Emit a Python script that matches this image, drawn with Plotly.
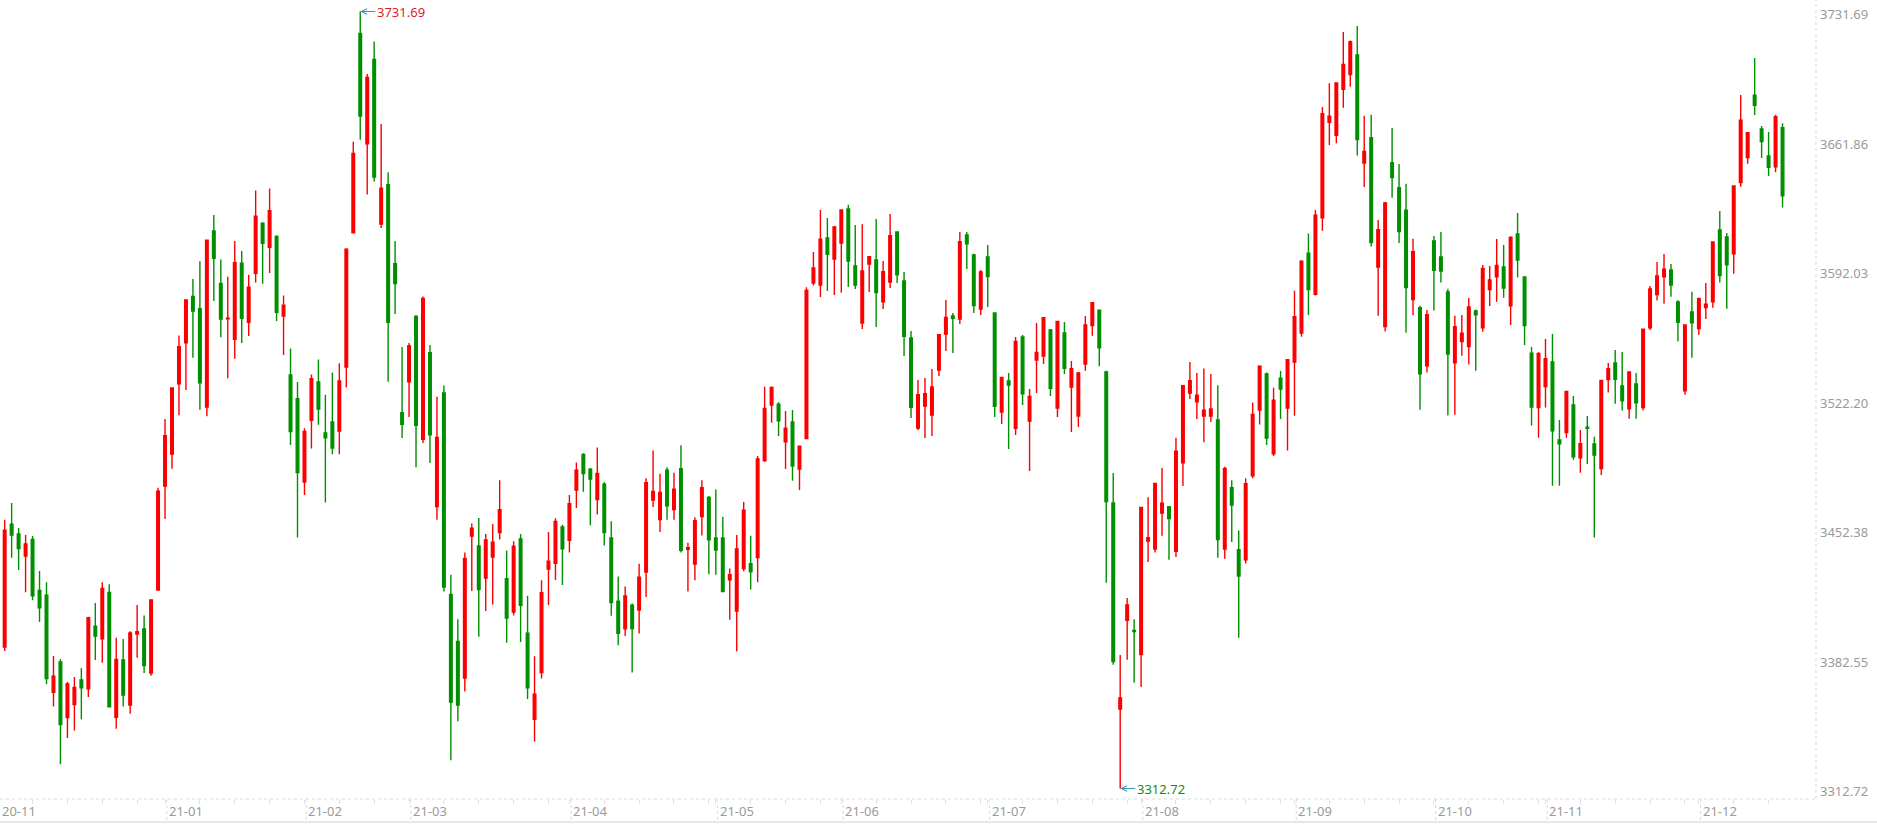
import pandas as pd
import plotly.graph_objects as go

# trading calendar (weekday closures of the Shanghai exchange)
holidays = ["2021-01-01", "2021-02-11", "2021-02-12", "2021-02-15", "2021-02-16",
            "2021-02-17", "2021-04-05", "2021-05-03", "2021-05-04", "2021-05-05",
            "2021-06-14", "2021-09-20", "2021-09-21", "2021-10-01", "2021-10-04",
            "2021-10-05", "2021-10-06", "2021-10-07"]
dates = [d.strftime("%Y-%m-%d") for d in pd.bdate_range("2020-11-30", "2021-12-17")
         if d.strftime("%Y-%m-%d") not in holidays]

opens = [
    3419.0,
    # 2020-12
    3388.99, 3455.3, 3450.0, 3438.0, 3447.0, 3419.5, 3417.0, 3364.6, 3381.0, 3351.0, 3358.0, 3371.2,
    3366.5, 3400.3, 3393.5, 3418.5, 3351.1, 3382.0, 3357.7, 3396.0, 3398.8, 3375.0, 3419.7,
    # 2021-01
    3475.8, 3493.0, 3531.0, 3553.0, 3578.0, 3571.4, 3518.4, 3613.3, 3585.0, 3566.0,
    3555.0, 3596.0, 3564.1, 3590.5, 3617.6, 3604.5, 3610.4, 3567.5, 3535.7, 3522.9,
    # 2021-02
    3478.0, 3511.2, 3531.9, 3504.5, 3510.4, 3505.5, 3540.0, 3612.4, 3719.8, 3660.4,
    3705.9, 3617.1, 3638.3, 3595.7, 3515.4,
    # 2021-03
    3532.0, 3567.2, 3501.0, 3547.7, 3464.7, 3526.0, 3417.4, 3392.0, 3372.3, 3448.8, 3443.5, 3426.2,
    3437.5, 3450.8, 3425.9, 3407.8, 3447.3, 3396.5, 3350.0, 3375.3, 3431.0, 3434.2, 3453.7,
    # 2021-04
    3446.6, 3473.6, 3492.8, 3484.9, 3468.5, 3476.8, 3447.8, 3413.7, 3398.8, 3411.6, 3409.0,
    3429.5, 3468.3, 3457.7, 3484.3, 3463.1, 3485.2, 3441.7, 3433.7, 3459.3, 3469.7,
    # 2021-05
    3447.8, 3447.8, 3425.2, 3408.4, 3431.3, 3433.9, 3437.2, 3489.5, 3519.5, 3520.0,
    3499.6, 3510.4, 3485.0, 3501.4, 3585.3, 3584.2, 3609.6, 3598.2,
    # 2021-06
    3606.9, 3625.2, 3594.5, 3563.7, 3595.5, 3597.7, 3575.1, 3585.8, 3612.8, 3586.4, 3555.6,
    3507.1, 3519.0, 3514.1, 3538.4, 3557.8, 3567.5, 3565.9, 3611.2, 3600.4, 3571.3,
    # 2021-07
    3599.3, 3569.1, 3515.7, 3532.5, 3507.0, 3556.2, 3510.9, 3543.8, 3545.9, 3560.0, 3517.9,
    3558.3, 3529.2, 3513.6, 3541.6, 3562.4, 3570.6, 3537.3, 3466.7, 3355.6, 3403.4, 3398.0,
    # 2021-08
    3385.0, 3446.2, 3441.8, 3461.3, 3464.7, 3440.6, 3488.3, 3526.0, 3521.2, 3513.6, 3513.6,
    3511.4, 3441.8, 3474.9, 3441.5, 3436.0, 3481.3, 3516.8, 3536.2, 3493.2, 3534.0, 3517.9,
    # 2021-09
    3542.7, 3558.3, 3601.4, 3579.2, 3620.4, 3671.9, 3665.0, 3689.7, 3697.7, 3708.2,
    3650.0, 3663.6, 3593.9, 3561.8, 3650.1, 3636.7, 3624.6, 3576.4, 3572.0, 3540.7,
    # 2021-10
    3607.9, 3599.3, 3580.4, 3542.3, 3553.7, 3551.0, 3570.2, 3561.2, 3581.7, 3588.7,
    3593.9, 3573.0, 3611.7, 3588.5, 3547.5, 3518.1,
    # 2021-11
    3529.4, 3542.7, 3500.6, 3504.6, 3519.5, 3491.1, 3507.5, 3498.5, 3485.2, 3533.2, 3542.2,
    3529.8, 3517.5, 3530.8, 3518.1, 3561.2, 3579.0, 3588.7, 3592.3, 3575.1, 3527.2, 3569.7,
    # 2021-12
    3560.7, 3572.0, 3575.2, 3613.9, 3610.1, 3601.1, 3639.4, 3652.9, 3686.5, 3668.3,
    3653.8, 3648.0, 3669.0,
]

highs = [
    3456.7,
    3457.64, 3466.6, 3453.2, 3449.4, 3448.9, 3430.0, 3424.0, 3384.2, 3382.6, 3370.1, 3372.8, 3377.6,
    3405.3, 3412.7, 3424.0, 3422.9, 3394.0, 3393.3, 3397.5, 3411.7, 3406.0, 3414.7, 3474.9,
    3512.0, 3528.9, 3557.0, 3576.5, 3587.5, 3597.0, 3608.5, 3622.0, 3598.0, 3588.7,
    3608.0, 3602.5, 3589.8, 3635.2, 3618.0, 3636.2, 3611.0, 3578.5, 3550.0, 3531.9,
    3507.0, 3536.0, 3544.0, 3525.0, 3537.0, 3542.0, 3604.0, 3661.5, 3731.69, 3698.0,
    3715.5, 3671.0, 3645.0, 3607.9, 3550.8,
    3553.0, 3568.0, 3578.0, 3551.9, 3524.0, 3530.0, 3428.0, 3404.0, 3440.0, 3455.6, 3458.6, 3450.0,
    3455.3, 3479.0, 3441.0, 3446.0, 3450.0, 3416.7, 3384.0, 3425.0, 3451.0, 3458.5, 3455.0,
    3471.0, 3488.5, 3493.5, 3485.5, 3496.6, 3478.0, 3456.8, 3427.1, 3421.6, 3412.5, 3433.9,
    3480.0, 3495.0, 3482.4, 3486.0, 3483.0, 3497.8, 3445.2, 3459.0, 3479.0, 3470.5,
    3474.0, 3459.3, 3431.3, 3449.4, 3467.2, 3449.0, 3492.0, 3529.4, 3529.5, 3521.0,
    3516.3, 3516.8, 3497.5, 3583.0, 3602.0, 3624.7, 3620.3, 3616.0,
    3624.9, 3627.5, 3616.6, 3617.0, 3599.8, 3619.8, 3597.2, 3622.5, 3613.2, 3591.2, 3559.4,
    3533.0, 3534.1, 3538.9, 3557.5, 3576.1, 3569.1, 3612.8, 3612.8, 3601.0, 3592.3,
    3605.8, 3569.5, 3534.5, 3536.8, 3556.2, 3557.3, 3528.1, 3563.7, 3566.0, 3560.5, 3564.8,
    3564.3, 3543.2, 3537.3, 3567.5, 3575.0, 3571.0, 3538.0, 3482.9, 3384.7, 3415.4, 3404.0,
    3464.5, 3469.7, 3477.5, 3485.5, 3465.0, 3501.8, 3530.0, 3542.7, 3536.7, 3539.2, 3536.2,
    3530.2, 3486.2, 3479.0, 3451.8, 3480.0, 3520.8, 3541.0, 3537.0, 3528.8, 3537.8, 3544.0,
    3581.1, 3597.5, 3612.0, 3624.6, 3680.2, 3693.0, 3693.5, 3720.6, 3716.0, 3723.85,
    3675.5, 3676.0, 3619.3, 3629.0, 3668.9, 3649.4, 3638.8, 3609.1, 3573.0, 3570.7,
    3610.6, 3612.8, 3582.2, 3567.7, 3568.0, 3577.2, 3571.0, 3595.0, 3594.5, 3609.0,
    3605.8, 3610.5, 3623.0, 3589.0, 3550.8, 3548.0,
    3555.1, 3557.8, 3511.4, 3527.0, 3524.4, 3506.0, 3513.6, 3502.4, 3533.0, 3542.2, 3549.2,
    3548.1, 3537.5, 3536.8, 3560.5, 3583.7, 3596.6, 3600.9, 3595.5, 3576.0, 3563.0, 3580.6,
    3577.5, 3585.3, 3607.8, 3624.1, 3612.3, 3638.0, 3686.7, 3666.4, 3706.6, 3669.9,
    3666.7, 3676.0, 3671.4,
]

lows = [
    3385.4,
    3386.91, 3437.2, 3430.5, 3418.6, 3414.2, 3402.5, 3369.0, 3357.0, 3325.8, 3340.0, 3344.0, 3350.0,
    3362.0, 3382.0, 3380.5, 3356.6, 3345.0, 3357.0, 3353.0, 3383.2, 3375.0, 3373.5, 3419.7,
    3458.0, 3485.2, 3514.0, 3527.6, 3545.0, 3517.0, 3513.5, 3575.6, 3556.0, 3534.0,
    3544.5, 3553.0, 3556.7, 3585.6, 3584.9, 3590.7, 3564.8, 3546.5, 3498.0, 3448.0,
    3471.0, 3496.0, 3508.8, 3467.0, 3493.0, 3493.0, 3529.0, 3612.0, 3662.6, 3633.0,
    3640.0, 3615.0, 3532.0, 3568.6, 3501.7,
    3513.0, 3486.0, 3499.0, 3488.3, 3457.7, 3419.0, 3328.0, 3349.0, 3365.0, 3419.2, 3394.6, 3408.4,
    3412.0, 3447.0, 3391.3, 3406.0, 3391.7, 3361.0, 3338.0, 3372.0, 3411.6, 3425.2, 3422.4,
    3440.0, 3464.0, 3472.8, 3454.7, 3460.5, 3443.8, 3405.9, 3389.9, 3395.0, 3375.3, 3396.3,
    3416.0, 3464.5, 3451.0, 3457.7, 3457.7, 3440.0, 3419.0, 3425.0, 3449.2, 3428.3,
    3428.0, 3418.5, 3403.7, 3386.6, 3429.9, 3420.0, 3424.0, 3488.8, 3510.0, 3502.8,
    3485.0, 3478.7, 3473.7, 3501.0, 3583.9, 3577.8, 3581.0, 3578.8,
    3580.0, 3583.1, 3582.0, 3560.5, 3580.4, 3561.6, 3571.3, 3582.6, 3585.3, 3545.9, 3512.5,
    3506.0, 3501.7, 3502.8, 3535.2, 3548.6, 3547.6, 3563.2, 3592.9, 3569.1, 3568.0,
    3572.3, 3513.0, 3509.3, 3495.8, 3503.3, 3519.5, 3483.9, 3526.0, 3541.6, 3524.4, 3513.0,
    3536.2, 3504.9, 3507.6, 3538.0, 3556.9, 3540.4, 3423.7, 3379.5, 3312.72, 3382.2, 3369.8,
    3367.5, 3434.9, 3440.0, 3449.0, 3436.0, 3437.5, 3475.8, 3522.8, 3511.9, 3499.4, 3510.3,
    3437.2, 3436.6, 3445.6, 3394.0, 3434.0, 3480.0, 3509.0, 3498.0, 3492.0, 3511.9, 3495.0,
    3513.7, 3556.3, 3568.0, 3578.5, 3613.5, 3659.7, 3660.6, 3679.8, 3691.1, 3654.0,
    3637.0, 3605.0, 3567.6, 3559.1, 3631.2, 3606.9, 3558.5, 3567.9, 3517.0, 3537.0,
    3570.4, 3585.5, 3513.8, 3514.3, 3546.1, 3541.3, 3538.0, 3559.0, 3572.9, 3575.2,
    3577.4, 3562.6, 3588.2, 3551.9, 3508.4, 3501.9,
    3518.1, 3476.0, 3476.0, 3501.9, 3490.0, 3483.0, 3487.7, 3448.0, 3481.8, 3526.2, 3520.2,
    3516.5, 3512.1, 3512.1, 3516.5, 3560.0, 3575.8, 3574.1, 3577.9, 3553.7, 3525.1, 3545.0,
    3557.4, 3565.9, 3572.0, 3585.5, 3571.4, 3590.3, 3637.2, 3649.6, 3675.9, 3652.7,
    3643.0, 3645.0, 3626.0,
]

closes = [
    3391.76,
    3451.94, 3449.38, 3442.14, 3444.58, 3416.60, 3410.18, 3371.96, 3373.28, 3347.19, 3369.12, 3367.23, 3366.98,
    3404.87, 3394.90, 3420.57, 3356.78, 3382.32, 3363.11, 3396.56, 3397.29, 3379.04, 3414.45, 3473.07,
    3502.96, 3528.68, 3550.88, 3576.20, 3570.11, 3531.50, 3608.34, 3598.65, 3565.90, 3566.38,
    3596.22, 3566.28, 3583.09, 3621.26, 3606.75, 3624.24, 3569.43, 3573.34, 3505.18, 3483.07,
    3505.28, 3533.68, 3517.31, 3501.86, 3496.33, 3532.44, 3603.49, 3655.09, 3675.36, 3696.17,
    3642.44, 3636.36, 3564.08, 3585.05, 3509.08,
    3551.40, 3508.59, 3576.90, 3503.49, 3501.99, 3421.41, 3359.29, 3357.74, 3436.83, 3453.08, 3419.95, 3446.73,
    3445.55, 3463.07, 3404.66, 3443.44, 3411.51, 3367.06, 3363.59, 3418.33, 3435.30, 3456.68, 3441.91,
    3466.33, 3484.39, 3482.48, 3479.63, 3482.56, 3450.68, 3412.95, 3396.47, 3416.52, 3398.99, 3426.62,
    3477.55, 3472.94, 3472.31, 3465.11, 3474.17, 3441.17, 3442.61, 3457.07, 3474.90, 3446.86,
    3441.28, 3418.87, 3427.99, 3441.85, 3462.75, 3429.54, 3490.38, 3517.62, 3529.01, 3510.96,
    3506.94, 3486.56, 3497.28, 3581.34, 3593.36, 3608.85, 3600.78, 3615.48,
    3624.71, 3597.14, 3584.22, 3591.84, 3599.54, 3580.11, 3591.40, 3610.86, 3589.75, 3556.56, 3518.33,
    3525.10, 3525.60, 3529.18, 3557.41, 3566.65, 3566.22, 3607.56, 3606.37, 3573.18, 3591.20,
    3588.78, 3518.76, 3534.32, 3530.26, 3553.72, 3525.50, 3524.09, 3547.84, 3566.53, 3528.50, 3564.59,
    3539.30, 3539.12, 3536.79, 3562.70, 3574.73, 3550.40, 3467.44, 3381.18, 3361.59, 3411.72, 3397.36,
    3464.29, 3447.99, 3477.22, 3466.56, 3458.23, 3494.63, 3529.93, 3532.62, 3524.74, 3516.76, 3517.34,
    3446.98, 3485.29, 3465.55, 3427.33, 3477.13, 3514.47, 3540.38, 3501.66, 3522.16, 3528.15, 3543.94,
    3567.10, 3597.04, 3581.73, 3621.86, 3676.59, 3675.19, 3693.13, 3703.11, 3715.37, 3662.60,
    3656.22, 3607.09, 3613.97, 3628.49, 3642.22, 3613.07, 3582.83, 3602.22, 3536.29, 3568.17,
    3592.17, 3591.71, 3546.94, 3561.76, 3558.28, 3572.37, 3568.14, 3593.15, 3587.00, 3594.78,
    3582.60, 3609.86, 3597.64, 3562.31, 3518.42, 3547.34,
    3544.48, 3505.63, 3498.54, 3526.87, 3491.57, 3498.63, 3507.00, 3492.46, 3532.79, 3539.10, 3533.30,
    3521.79, 3537.37, 3520.71, 3560.37, 3582.08, 3589.09, 3592.70, 3584.18, 3564.09, 3562.70, 3563.89,
    3576.89, 3573.84, 3607.43, 3589.31, 3595.09, 3637.57, 3673.04, 3666.35, 3681.08, 3661.53,
    3647.63, 3675.02, 3632.36,
]

y_ticks = [3731.69, 3661.86, 3592.03, 3522.20, 3452.38, 3382.55, 3312.72]
max_value = 3731.69
min_value = 3312.72

RED = "#fa0000"
GREEN = "#008f00"
GRAY = "#9a9a9a"
LINE = "#d9d9d9"

# month groups: the first group (Nov/Dec 2020) is labelled "20-11"
months = [d[:7] for d in dates]
group_start = [0]
for i in range(1, len(dates)):
    if months[i] != months[i - 1] and months[i] >= "2021-01":
        group_start.append(i)
labels = [months[i][2:] for i in group_start]
labels[0] = "20-11"

minor = []
bounds = group_start + [len(dates)]
for k in range(len(group_start)):
    minor += list(range(bounds[k], bounds[k + 1], 5))

fig = go.Figure()
fig.add_trace(go.Candlestick(
    x=dates, open=opens, high=highs, low=lows, close=closes,
    increasing=dict(line=dict(color=RED, width=1.4), fillcolor=RED),
    decreasing=dict(line=dict(color=GREEN, width=1.4), fillcolor=GREEN),
    whiskerwidth=0, hoverinfo="skip", showlegend=False,
))

shapes = [
    dict(type="line", xref="paper", yref="paper", x0=1, x1=1, y0=0, y1=1,
         line=dict(color=LINE, width=1, dash="dot")),
    dict(type="line", xref="paper", yref="paper", x0=0, x1=1, y0=0, y1=0,
         line=dict(color=LINE, width=1, dash="dot")),
    dict(type="line", xref="paper", yref="paper", x0=0, x1=1877 / 1816, y0=-23 / 799, y1=-23 / 799,
         line=dict(color="#e6e6e6", width=2)),
]
for i in group_start[1:]:
    shapes.append(dict(type="line", xref="x", yref="paper", x0=i + 0.25, x1=i + 0.25,
                       y0=0, y1=-23 / 799, line=dict(color=LINE, width=1, dash="dot")))

annotations = []
for i, lab in zip(group_start, labels):
    if i == 0:
        pos = dict(x=0, xref="paper", xshift=0)
    else:
        pos = dict(x=i, xref="x", xshift=2)
    annotations.append(dict(y=0, yref="paper", text=lab, showarrow=False,
                            xanchor="left", yanchor="top", yshift=-1,
                            font=dict(size=13, color=GRAY), **pos))

i_max = highs.index(max_value)
i_min = lows.index(min_value)
annotations.append(dict(x=dates[i_max], y=max_value, xref="x", yref="y", text=f"{max_value:.2f}",
                        showarrow=True, ax=15, ay=0, xanchor="left", arrowhead=5, arrowsize=1.1,
                        arrowwidth=1, arrowcolor="#3a93b8", standoff=0,
                        font=dict(size=13, color="#e01c1c")))
annotations.append(dict(x=dates[i_min], y=min_value, xref="x", yref="y", text=f"{min_value:.2f}",
                        showarrow=True, ax=15, ay=0, xanchor="left", arrowhead=5, arrowsize=1.1,
                        arrowwidth=1, arrowcolor="#3a93b8", standoff=0,
                        font=dict(size=13, color="#128a12")))

fig.update_layout(
    width=1877, height=824,
    margin=dict(l=0, r=61, t=0, b=25),
    paper_bgcolor="white", plot_bgcolor="white",
    font=dict(family="Noto Sans, Open Sans, sans-serif", size=13, color=GRAY),
    boxgap=0.47,
    shapes=shapes,
    annotations=annotations,
    showlegend=False,
    xaxis=dict(type="category", range=[0.33, 260.8], rangeslider=dict(visible=False),
               showgrid=False, zeroline=False, showline=False, showticklabels=False,
               tickmode="array", tickvals=[dates[i] for i in minor],
               ticks="outside", ticklen=4, tickcolor="#e0e0e0", tickwidth=1),
    yaxis=dict(side="right", range=[3307.06, 3737.89], showgrid=False, zeroline=False,
               showline=False, tickmode="array", tickvals=y_ticks,
               ticktext=[f"{v:.2f}" for v in y_ticks], ticks="",
               ticklabelstandoff=3, ticklabelshift=3, ticklabeloverflow="allow",
               tickfont=dict(size=13, color=GRAY)),
)

fig.write_html("out.html", config={"displayModeBar": False},
               post_script="document.body.style.margin='0';")
